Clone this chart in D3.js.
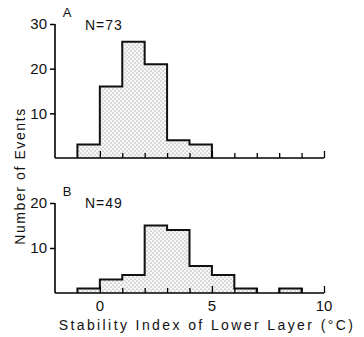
<!DOCTYPE html>
<html>
<head>
<meta charset="utf-8">
<script src="https://cdn.jsdelivr.net/npm/d3@7"></script>
<style>
  body { margin: 0; background: #fff; }
  text { font-family: "Liberation Sans", Arial, sans-serif; fill: #111; }
</style>
</head>
<body>
<div id="container"></div>
<script>
// bin edges are 1 degree wide, starting at -1
const binStarts = [-1, 0, 1, 2, 3, 4, 5, 6, 7, 8];
const countsA = [3, 16, 26, 21, 4, 3, 0, 0, 0, 0];
const countsB = [1, 3, 4, 15, 14, 6, 4, 1, 0, 1];
const xTicks = [0, 1, 2, 3, 4, 5, 6, 7, 8, 9, 10];
const xLabels = [0, 5, 10];
const yTicksA = [10, 20, 30];
const yTicksB = [10, 20];

const width = 364, height = 337;

const svg = d3.select("#container")
    .append("svg")
    .attr("width", width)
    .attr("height", height);

const defs = svg.append("defs");
const pat = defs.append("pattern")
    .attr("id", "dots")
    .attr("patternUnits", "userSpaceOnUse")
    .attr("width", 4)
    .attr("height", 4);
pat.append("rect").attr("width", 4).attr("height", 4).attr("fill", "#f7f7f7");
pat.append("circle").attr("cx", 1).attr("cy", 1).attr("r", 0.6).attr("fill", "#777");
pat.append("circle").attr("cx", 3).attr("cy", 3).attr("r", 0.6).attr("fill", "#777");

const x = d3.scaleLinear().domain([-2, 10]).range([55, 324]);

function panel(counts, yMax, yTicks, y0, y1, letter, nLabel, letterY, nY) {
    const y = d3.scaleLinear().domain([0, yMax]).range([y0, y1]);
    const g = svg.append("g");

    // split into runs of non-zero bins
    const runs = [];
    let cur = null;
    counts.forEach((c, i) => {
        if (c > 0) {
            if (!cur) { cur = []; runs.push(cur); }
            cur.push({x0: binStarts[i], x1: binStarts[i] + 1, v: c});
        } else cur = null;
    });

    const line = d3.line().x(d => x(d[0])).y(d => y(d[1]));
    runs.forEach(run => {
        const pts = [[run[0].x0, 0]];
        run.forEach(b => { pts.push([b.x0, b.v]); pts.push([b.x1, b.v]); });
        pts.push([run[run.length - 1].x1, 0]);
        g.append("path").attr("d", line(pts) + "Z").attr("fill", "url(#dots)").attr("stroke", "none");
        g.append("path").attr("d", line(pts))
            .attr("fill", "none").attr("stroke", "#111").attr("stroke-width", 2)
            .attr("stroke-linejoin", "miter");
    });

    // x axis: inward ticks
    const xa = g.append("g").attr("transform", `translate(0,${y0})`)
        .call(d3.axisTop(x).tickValues(xTicks).tickSize(5).tickFormat(""));
    xa.select(".domain").attr("d", `M${x(-2)},0H${x(10)}`).attr("stroke-width", 1.6);
    xa.selectAll(".tick line").attr("stroke-width", 1.3)
        .attr("y2", d => (d % 5 === 0 ? -7 : -5));

    // y axis
    const ya = g.append("g").attr("transform", `translate(${x(-2)},0)`)
        .call(d3.axisLeft(y).tickValues(yTicks).tickSize(5).tickPadding(3));
    ya.select(".domain").attr("d", `M0,${y0}V${y1}`).attr("stroke-width", 1.6);
    ya.selectAll(".tick line").attr("stroke-width", 1.5);
    ya.selectAll(".tick text").style("font-size", "15px").attr("fill", "#111")
        .style("font-family", "'Liberation Sans', Arial, sans-serif");

    g.append("text").attr("x", 67).attr("y", letterY).attr("text-anchor", "middle")
        .style("font-size", "13px").text(letter);
    g.append("text").attr("x", 85).attr("y", nY)
        .style("font-size", "14px").style("letter-spacing", "1px").text(nLabel);
    return g;
}

panel(countsA, 30, yTicksA, 158, 24, "A", "N=73", 17, 30);
const gB = panel(countsB, 20, yTicksB, 293, 203, "B", "N=49", 196, 208);

// x tick labels under panel B
gB.selectAll(".xl").data(xLabels).join("text")
    .attr("x", d => x(d)).attr("y", 311)
    .attr("text-anchor", "middle")
    .style("font-size", "15px")
    .text(d => d);

svg.append("text")
    .attr("x", 207).attr("y", 330)
    .attr("text-anchor", "middle")
    .style("font-size", "14px").style("letter-spacing", "2.4px")
    .text("Stability Index of Lower Layer (°C)");

svg.append("text")
    .attr("transform", "translate(25,176) rotate(-90)")
    .attr("text-anchor", "middle")
    .style("font-size", "14px").style("letter-spacing", "1.6px")
    .text("Number of Events");
</script>
</body>
</html>
